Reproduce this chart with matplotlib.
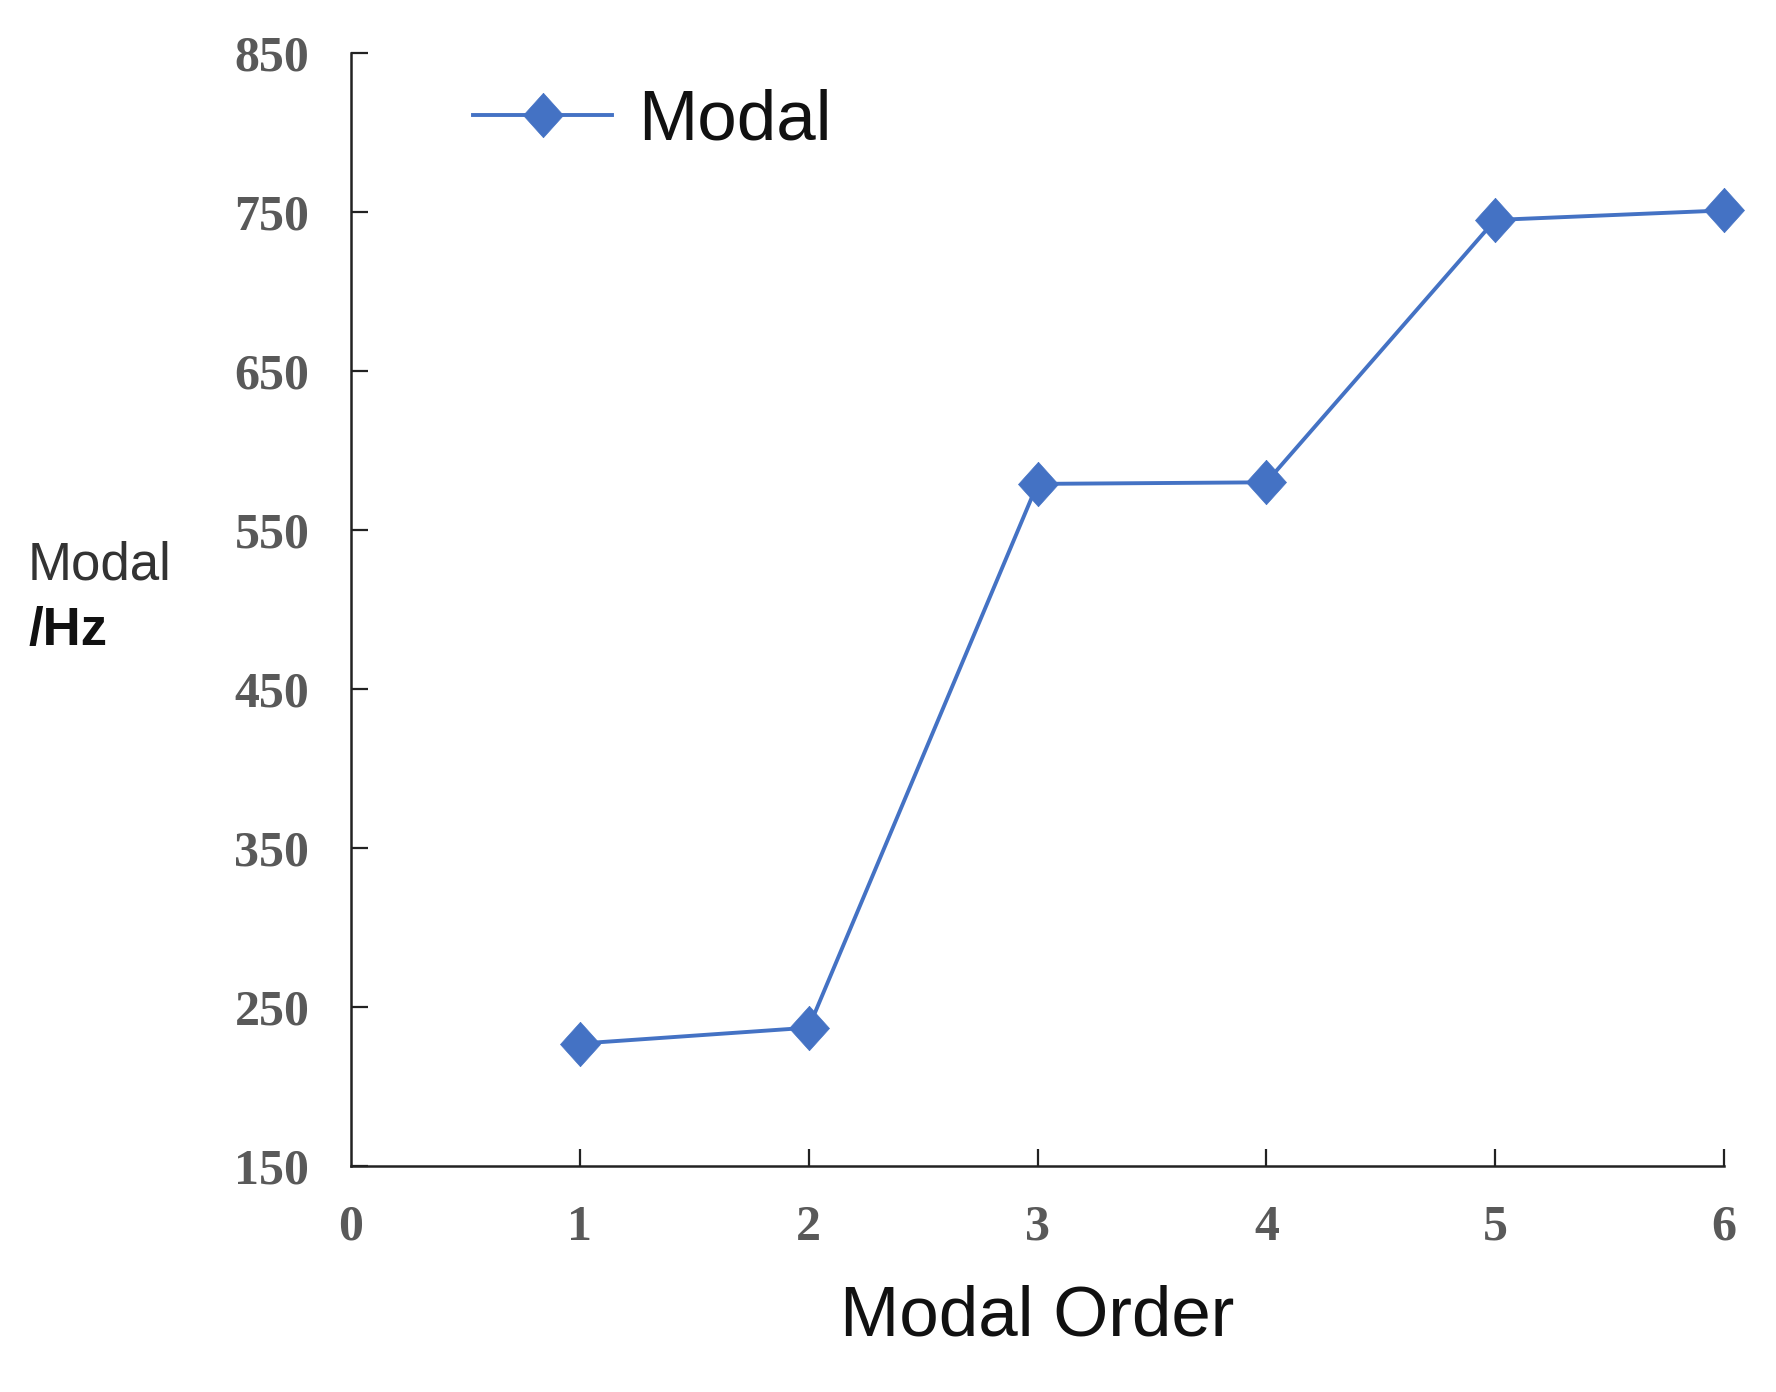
import matplotlib
matplotlib.use("Agg")
import matplotlib.pyplot as plt

# Data
modal_order = [1, 2, 3, 4, 5, 6]
modal_freq = [227, 237, 579, 580, 745, 751]
x_ticks = [0, 1, 2, 3, 4, 5, 6]
y_ticks = [150, 250, 350, 450, 550, 650, 750, 850]
series_name = "Modal"

blue = "#4472C4"
diamond = [(0, 0.5), (0.45, 0), (0, -0.5), (-0.45, 0), (0, 0.5)]

fig = plt.figure(figsize=(17.76, 13.92), dpi=100)
ax = fig.add_axes([351/1776, 1 - 1166/1392, (1724 - 351)/1776, (1166 - 53)/1392])

ax.plot(modal_order, modal_freq, color=blue, lw=2.8, marker=diamond,
        markersize=32, markerfacecolor=blue, markeredgecolor=blue,
        markeredgewidth=0.5, label=series_name, clip_on=False, zorder=3)

ax.set_xlim(0, 6)
ax.set_ylim(150, 850)
ax.set_xticks(x_ticks)
ax.set_yticks(y_ticks)
ax.set_xticklabels([str(v) for v in x_ticks])
ax.set_yticklabels([str(v) for v in y_ticks])

for s in ["top", "right"]:
    ax.spines[s].set_visible(False)
for s in ["left", "bottom"]:
    ax.spines[s].set_linewidth(1.8)
    ax.spines[s].set_color("#222222")

ax.tick_params(axis="both", direction="in", length=12, width=1.6, color="#222222")
ax.tick_params(axis="y", pad=30)
ax.tick_params(axis="x", pad=28)
for lab in ax.get_xticklabels() + ax.get_yticklabels():
    lab.set_fontfamily("Liberation Serif")
    lab.set_fontweight("bold")
    lab.set_fontsize(36)
    lab.set_color("#595959")
# hide tick mark at x=0 (coincides with the spine)
ax.xaxis.get_major_ticks()[0].tick1line.set_visible(False)

ax.set_xlabel("Modal Order", fontsize=51, fontfamily="Liberation Sans",
              color="#111111", labelpad=24)

fig.text(28/1776, 1 - 566/1392, "Modal", fontsize=38, fontfamily="Liberation Sans",
         color="#333333", ha="left", va="center")
fig.text(28/1776, 1 - 631/1392, "/Hz", fontsize=38, fontfamily="Liberation Sans",
         fontweight="bold", color="#111111", ha="left", va="center")

leg = ax.legend(loc="center left", bbox_to_anchor=(438/1776, 1 - 122/1392),
                bbox_transform=fig.transFigure, frameon=False, borderpad=0,
                handlelength=1.96, handletextpad=0.36,
                prop={"family": "Liberation Sans", "size": 51})
for t in leg.get_texts():
    t.set_color("#111111")

fig.savefig("out.png", dpi=100)
